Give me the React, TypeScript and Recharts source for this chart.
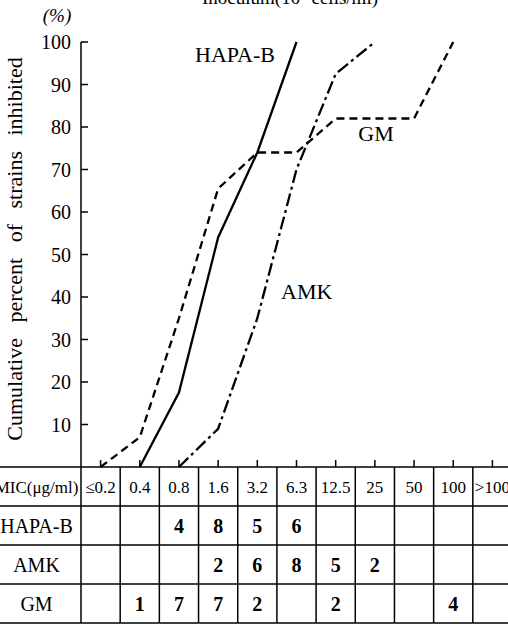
import { LineChart, Line, XAxis, YAxis, Customized } from 'recharts';

const categories = ['≤0.2', '0.4', '0.8', '1.6', '3.2', '6.3', '12.5', '25', '50', '100', '>100'];

// cumulative percent of strains inhibited
const hapaB = [null, 0, 17.5, 54, 74, 100, null, null, null, null, null];
const amk = [null, null, 0, 9, 35, 70, 92.5, 100, null, null, null];
const gm = [0, 7, 35, 65.5, 74, 74, 82, 82, 82, 100, null];

// number of strains per MIC
const rowLabels = ['HAPA-B', 'AMK', 'GM'];
const hapaBCounts = [null, null, 4, 8, 5, 6, null, null, null, null, null];
const amkCounts = [null, null, null, 2, 6, 8, 5, 2, null, null, null];
const gmCounts = [null, 1, 7, 7, 2, null, 2, null, null, 4, null];
const countRows = [hapaBCounts, amkCounts, gmCounts];

const yTicks = [10, 20, 30, 40, 50, 60, 70, 80, 90, 100];

const data = categories.map((mic, i) => ({
  mic,
  hapaB: hapaB[i],
  amk: amk[i],
  gm: gm[i],
}));

const W = 512;
const H = 625;
const TOP = 42;
const Y_W = 81;
const X_H = 158;
const ROW_H = 39;
const COL_W = (W - Y_W) / categories.length;
const FONT = "'Liberation Serif'";

const XTick = (props: any) => {
  const { x, y, payload } = props;
  const index = payload.index ?? props.index;
  const left = x - COL_W / 2;
  const right = x + COL_W / 2;
  return (
    <g fill="#000">
      <line x1={x} y1={y} x2={x} y2={y - 7} stroke="#000" strokeWidth={1.5} />
      {[1, 2, 3, 4].map((r) => (
        <line key={r} x1={left} x2={right} y1={y + r * ROW_H} y2={y + r * ROW_H} stroke="#000" strokeWidth={1.5} />
      ))}
      <line x1={right} x2={right} y1={y} y2={y + 4 * ROW_H} stroke="#000" strokeWidth={1.5} />
      <text className="serif" x={x} y={y + ROW_H / 2 + 6} textAnchor="middle" fontSize={17}>
        {payload.value}
      </text>
      {countRows.map((row, r) =>
        row[index] != null ? (
          <text className="serif" key={r} x={x} y={y + (r + 1) * ROW_H + ROW_H / 2 + 7} textAnchor="middle" fontSize={20} fontWeight="bold">
            {row[index]}
          </text>
        ) : null
      )}
      {index === 0 && (
        <g>
          <line x1={left} x2={left} y1={y} y2={y + 4 * ROW_H} stroke="#000" strokeWidth={1.5} />
          {[0, 1, 2, 3, 4].map((r) => (
            <line key={r} x1={0} x2={left} y1={y + r * ROW_H} y2={y + r * ROW_H} stroke="#000" strokeWidth={1.5} />
          ))}
          <text className="serif" x={left / 2 - 4} y={y + ROW_H / 2 + 6} textAnchor="middle" fontSize={17}>
            MIC(μg/ml)
          </text>
          {rowLabels.map((label, r) => (
            <text className="serif" key={label} x={left / 2 - 4} y={y + (r + 1) * ROW_H + ROW_H / 2 + 7} textAnchor="middle" fontSize={20}>
              {label}
            </text>
          ))}
        </g>
      )}
    </g>
  );
};

const YTick = (props: any) => {
  const { x, y, payload } = props;
  return (
    <g>
      <line x1={x} y1={y} x2={x + 7} y2={y} stroke="#000" strokeWidth={1.5} />
      <text className="serif" x={x - 10} y={y + 7} textAnchor="end" fontSize={20} fill="#000">
        {payload.value}
      </text>
    </g>
  );
};

const Labels = () => (
  <g fill="#000">
    <text className="serif" x={290} y={4} textAnchor="middle" fontSize={19}>Inoculum(10⁶ cells/ml)</text>
    <text className="serif" x={57} y={22} textAnchor="middle" fontSize={19} fontStyle="italic">(%)</text>
    <text
      className="serif"
      x={0}
      y={0}
      transform="translate(22, 249) rotate(-90)"
      textAnchor="middle"
      fontSize={22}
      wordSpacing={10}
    >
      Cumulative percent of strains inhibited
    </text>
    <text className="serif" x={235} y={62} textAnchor="middle" fontSize={22}>HAPA-B</text>
    <text className="serif" x={376} y={141} textAnchor="middle" fontSize={22}>GM</text>
    <text className="serif" x={281} y={299} fontSize={22}>AMK</text>
  </g>
);

export default function App() {
  return (
    <div id="fig" style={{ position: 'absolute', left: 0, top: 0, width: 508, height: 625, overflow: 'hidden', background: '#fff' }}>
      <style>{`#fig svg text, #fig svg text.serif, #fig .recharts-wrapper text { font-family: ${FONT} !important; }`}</style>
      <LineChart width={W} height={H} data={data} margin={{ top: TOP, right: 0, bottom: 0, left: 0 }}>
        <XAxis
          dataKey="mic"
          scale="band"
          height={X_H}
          interval={0}
          tickSize={0}
          tickMargin={0}
          tickLine={false}
          axisLine={{ stroke: '#000', strokeWidth: 1.5 }}
          tick={<XTick />}
        />
        <YAxis
          domain={[0, 100]}
          ticks={yTicks}
          width={Y_W}
          tickSize={0}
          tickMargin={0}
          tickLine={false}
          axisLine={{ stroke: '#000', strokeWidth: 1.5 }}
          tick={<YTick />}
        />
        <Line dataKey="hapaB" stroke="#000" strokeWidth={2.3} dot={false} isAnimationActive={false} />
        <Line dataKey="amk" stroke="#000" strokeWidth={2.3} strokeDasharray="13 4 3 4" dot={false} isAnimationActive={false} />
        <Line dataKey="gm" stroke="#000" strokeWidth={2.3} strokeDasharray="8 5" dot={false} isAnimationActive={false} />
        <Customized component={<Labels />} />
      </LineChart>
    </div>
  );
}
